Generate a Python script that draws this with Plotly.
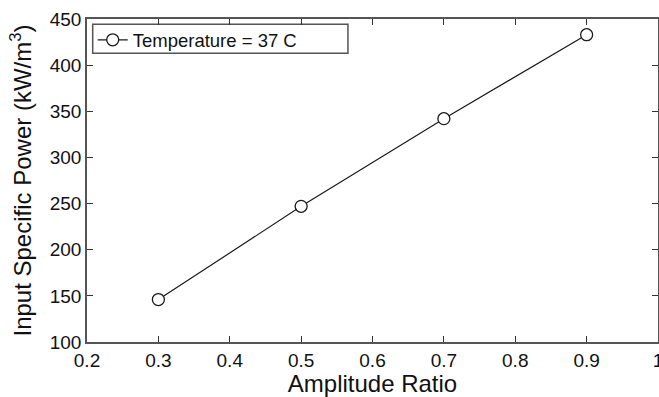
import plotly.graph_objects as go

amplitude_ratio = [0.3, 0.5, 0.7, 0.9]
specific_power = [146, 247, 342, 433]
series_name = "Temperature = 37 C"
x_tickvals = [0.2, 0.3, 0.4, 0.5, 0.6, 0.7, 0.8, 0.9, 1.0]
x_ticktext = ["0.2", "0.3", "0.4", "0.5", "0.6", "0.7", "0.8", "0.9", "1"]
y_tickvals = [100, 150, 200, 250, 300, 350, 400, 450]

fig = go.Figure()
fig.add_trace(go.Scatter(
    x=amplitude_ratio, y=specific_power, name=series_name,
    mode="lines+markers",
    line=dict(color="#1a1a1a", width=1.2),
    marker=dict(symbol="circle", size=12, color="white",
                line=dict(color="#1a1a1a", width=1.3)),
    showlegend=True,
))

font_family = "Liberation Sans, Arial, Helvetica, sans-serif"
axis_common = dict(
    showline=True, linecolor="#555555", linewidth=1.5,
    ticks="inside", ticklen=6, tickwidth=1.2, tickcolor="#333333",
    mirror="ticks", showgrid=False, zeroline=False,
    ticklabeloverflow="allow",
    tickfont=dict(family=font_family, size=19, color="#111111"),
)

# legend frame drawn as a paper-coordinate box (MATLAB-style wide legend)
fig.add_shape(type="rect", xref="paper", yref="paper",
              x0=0.010, x1=0.457, y0=0.894, y1=0.984,
              line=dict(color="#555555", width=1.5), fillcolor="white",
              layer="below")

fig.update_layout(
    width=659, height=397,
    margin=dict(l=87, r=1, t=19, b=55, autoexpand=False),
    paper_bgcolor="white", plot_bgcolor="white",
    font=dict(family=font_family, color="#111111"),
    showlegend=True,
    legend=dict(
        x=0.01, y=0.993, xanchor="left", yanchor="top",
        borderwidth=0, bgcolor="rgba(0,0,0,0)",
        font=dict(family=font_family, size=18.5, color="#111111"),
        itemwidth=30, tracegroupgap=0,
    ),
    xaxis=dict(
        range=[0.2, 1.0], tickvals=x_tickvals, ticktext=x_ticktext,
        title=dict(text="Amplitude Ratio", standoff=6,
                   font=dict(family=font_family, size=24, color="#111111")),
        **axis_common,
    ),
    yaxis=dict(
        range=[100, 450], tickvals=y_tickvals,
        title=dict(text="Input Specific Power (kW/m<sup>3</sup>)", standoff=11,
                   font=dict(family=font_family, size=24, color="#111111")),
        **axis_common,
    ),
)

fig.write_html("out.html")
